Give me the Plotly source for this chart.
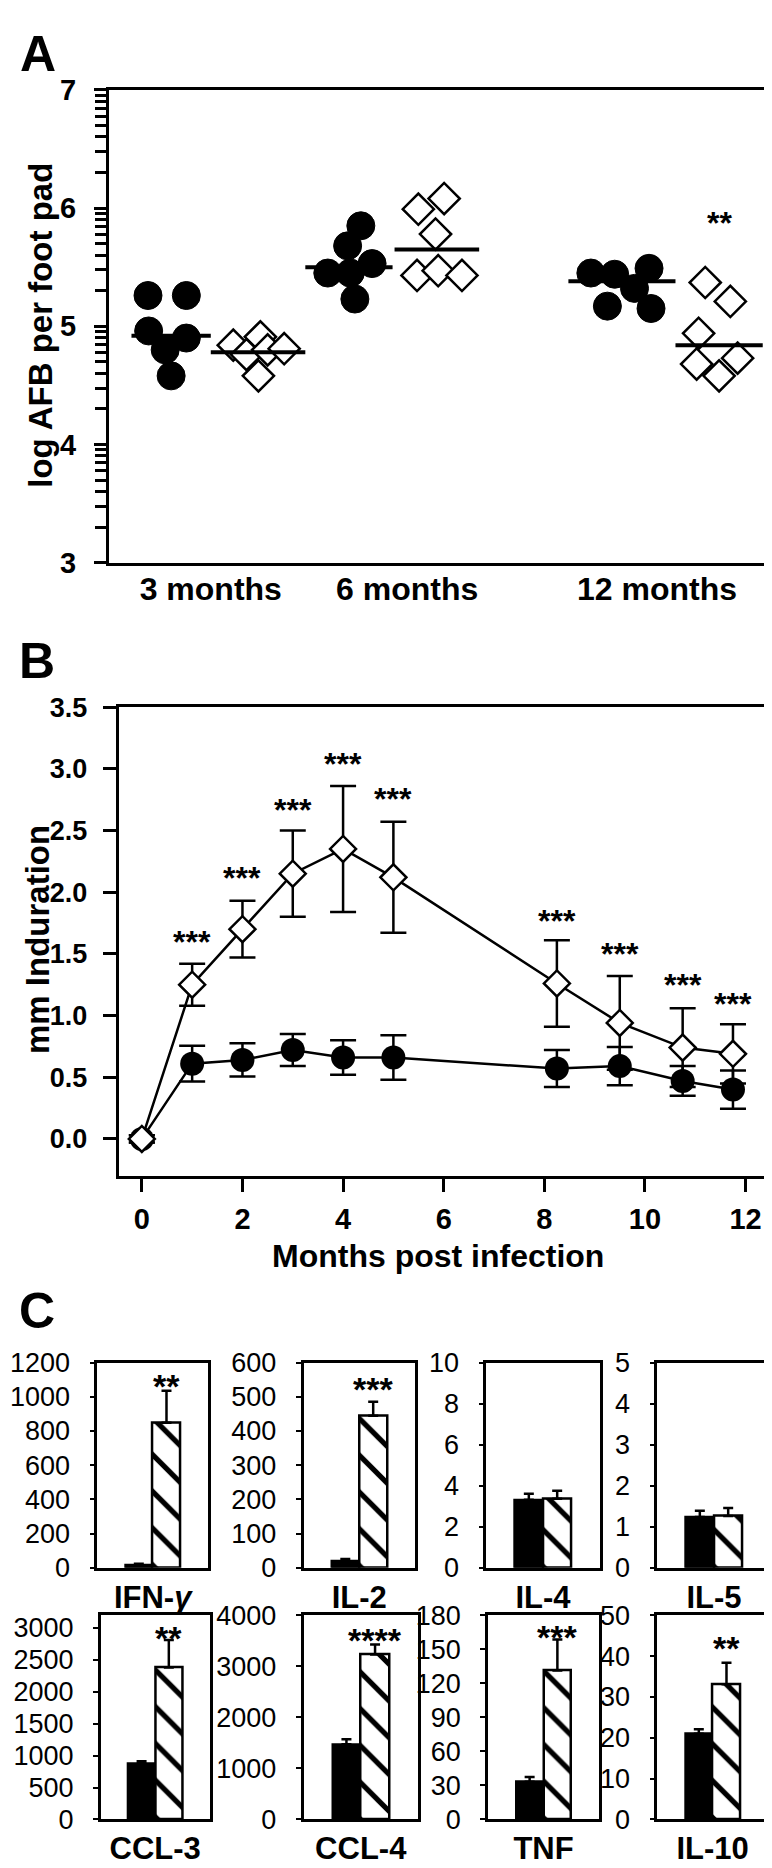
import math
import plotly.graph_objects as go

W, H = 772, 1868
FONT = "Liberation Sans, Arial, Helvetica, sans-serif"

# ---------------- Panel A data ----------------
A_CATEGORIES = ["3 months", "6 months", "12 months"]
A_CAT_POS = [1.54, 4.51, 8.29]
A_FILLED_X = [[0.59, 1.17, 0.60, 1.17, 0.85, 0.94],
              [3.31, 3.65, 3.98, 3.61, 3.81, 3.72],
              [7.29, 7.65, 8.17, 7.95, 7.54, 8.20]]
A_FILLED_Y = [[5.26, 5.26, 4.96, 4.90, 4.80, 4.58],
              [5.45, 5.45, 5.53, 5.68, 5.85, 5.23],
              [5.45, 5.44, 5.49, 5.32, 5.17, 5.15]]
A_OPEN_X = [[1.88, 2.29, 2.08, 2.40, 2.65, 2.26],
            [4.68, 5.07, 4.94, 4.66, 4.98, 5.34],
            [9.02, 9.40, 8.92, 8.89, 9.51, 9.23]]
A_OPEN_Y = [[4.84, 4.91, 4.76, 4.80, 4.81, 4.58],
            [5.99, 6.08, 5.78, 5.43, 5.47, 5.43],
            [5.37, 5.21, 4.94, 4.68, 4.73, 4.58]]
A_FILLED_MEAN = [4.92, 5.50, 5.38]
A_OPEN_MEAN = [4.78, 5.65, 4.84]
A_FILLED_MEAN_X = [(0.34, 1.54), (2.97, 4.29), (6.95, 8.57)]
A_OPEN_MEAN_X = [(1.54, 2.97), (4.32, 5.60), (8.57, 9.89)]
A_SIG_TEXT = ["**"]
A_SIG_X = [9.23]
A_SIG_Y = [5.94]

# ---------------- Panel B data ----------------
B_MONTHS = [0, 1, 2, 3, 4, 5, 8.25, 9.5, 10.75, 11.75]
B_FILLED = [0.0, 0.61, 0.64, 0.72, 0.66, 0.66, 0.57, 0.59, 0.47, 0.40]
B_FILLED_ERR = [0.03, 0.145, 0.135, 0.13, 0.14, 0.18, 0.15, 0.155, 0.12, 0.155]
B_OPEN = [0.0, 1.25, 1.70, 2.15, 2.35, 2.12, 1.26, 0.94, 0.74, 0.69]
B_OPEN_ERR = [0.03, 0.17, 0.23, 0.35, 0.51, 0.45, 0.35, 0.38, 0.32, 0.24]
B_SIG_X = [1, 2, 3, 4, 5, 8.25, 9.5, 10.75, 11.75]
B_SIG_Y = [1.66, 2.18, 2.73, 3.10, 2.82, 1.83, 1.56, 1.31, 1.16]
B_SIG_TEXT = "***"

# ---------------- Panel C data ----------------
C_LABELS = ["IFN-<i>γ</i>", "IL-2", "IL-4", "IL-5", "CCL-3", "CCL-4", "TNF", "IL-10"]
C_FILLED = [17, 21, 3.32, 1.24, 877, 1473, 33.2, 21.0]
C_FILLED_ERR = [6, 5, 0.29, 0.15, 35, 96, 4.3, 1.1]
C_HATCH = [848, 445, 3.37, 1.26, 2381, 3233, 131.2, 33.1]
C_HATCH_ERR = [188, 41, 0.38, 0.20, 430, 192, 27.4, 5.3]
C_YMAX = [1200, 600, 10, 5, 3200, 4000, 180, 50]
C_DTICK = [200, 100, 2, 1, 500, 1000, 30, 10]
C_SIG = ["**", "***", "", "", "**", "****", "***", "**"]
C_SIG_Y = [1108, 545, None, None, 2964, 3681, 167.6, 44]


def xd(a, b):
    return [a / W, b / W]


def yd(top, bottom):
    return [1 - bottom / H, 1 - top / H]


def paper_text(text, x, y, size, angle=0):
    return dict(text=text, x=x / W, y=1 - y / H, xref="paper", yref="paper",
                xanchor="center", yanchor="middle", textangle=angle, showarrow=False,
                font=dict(size=size, weight="bold"))


fig = go.Figure()
layout = dict(width=W, height=H, margin=dict(l=0, r=0, t=0, b=0),
              paper_bgcolor="white", plot_bgcolor="white", showlegend=False,
              font=dict(family=FONT, color="black"))
annotations = []

box = dict(showline=True, mirror=True, linecolor="black", showgrid=False, zeroline=False)

# ---------------- Panel A ----------------
for i in range(3):
    fig.add_trace(go.Scatter(x=A_FILLED_X[i], y=A_FILLED_Y[i], mode="markers",
                             marker=dict(symbol="circle", size=28, color="black",
                                         line=dict(color="black", width=1)),
                             xaxis="x", yaxis="y"))
    fig.add_trace(go.Scatter(x=A_OPEN_X[i], y=A_OPEN_Y[i], mode="markers",
                             marker=dict(symbol="diamond", size=24, color="white",
                                         line=dict(color="black", width=2.5)),
                             xaxis="x", yaxis="y"))
for i in range(3):
    fig.add_trace(go.Scatter(x=list(A_FILLED_MEAN_X[i]), y=[A_FILLED_MEAN[i]] * 2, mode="lines",
                             line=dict(color="black", width=4), xaxis="x", yaxis="y"))
    fig.add_trace(go.Scatter(x=list(A_OPEN_MEAN_X[i]), y=[A_OPEN_MEAN[i]] * 2, mode="lines",
                             line=dict(color="black", width=4), xaxis="x", yaxis="y"))

minorA = [n + math.log10(k) for n in range(3, 7) for k in range(2, 10)]

layout["xaxis"] = dict(domain=xd(101, 762), anchor="y", range=[0, 10], tickvals=A_CAT_POS,
                       ticktext=A_CATEGORIES, ticks="", linewidth=3,
                       tickfont=dict(size=32, weight="bold"), ticklabelstandoff=-4, **box)
layout["yaxis"] = dict(domain=yd(67, 548), anchor="x", range=[3, 7], tickvals=[3, 4, 5, 6, 7],
                       ticks="outside", ticklen=12, tickwidth=2.5, tickcolor="black", linewidth=3,
                       minor=dict(tickvals=minorA, ticks="outside", ticklen=11, tickwidth=2.5,
                                  tickcolor="black"),
                       tickfont=dict(size=29, weight="bold"), ticklabelstandoff=12, **box)
for t, x, y in zip(A_SIG_TEXT, A_SIG_X, A_SIG_Y):
    annotations.append(dict(text=t, x=x, y=y, xref="x", yref="y", showarrow=False,
                            xanchor="center", yanchor="middle",
                            font=dict(size=32, weight="bold"), yshift=-8))
annotations.append(paper_text("log AFB per foot pad", 33, 307, 33, -90))
annotations.append(paper_text("A", 30, 31, 50))

# ---------------- Panel B ----------------
fig.add_trace(go.Scatter(x=B_MONTHS, y=B_FILLED, mode="lines+markers",
                         line=dict(color="black", width=2.5),
                         marker=dict(symbol="circle", size=24, color="black"),
                         error_y=dict(type="data", array=B_FILLED_ERR, symmetric=True,
                                      color="black", thickness=2.5, width=13),
                         xaxis="x2", yaxis="y2"))
fig.add_trace(go.Scatter(x=B_MONTHS, y=B_OPEN, mode="lines+markers",
                         line=dict(color="black", width=2.5),
                         marker=dict(symbol="diamond", size=20, color="white",
                                     line=dict(color="black", width=2.5)),
                         error_y=dict(type="data", array=B_OPEN_ERR, symmetric=True,
                                      color="black", thickness=2.5, width=13),
                         xaxis="x2", yaxis="y2"))
layout["xaxis2"] = dict(domain=xd(110.7, 762.7), anchor="y2", range=[-0.46, 12.5],
                        tickvals=list(range(0, 13, 2)), ticks="outside", ticklen=13, tickwidth=2.5,
                        tickcolor="black", linewidth=3, tickfont=dict(size=29, weight="bold"),
                        ticklabelstandoff=2, **box)
layout["yaxis2"] = dict(domain=yd(695, 1172), anchor="x2", range=[-0.3, 3.5],
                        tickvals=[0, 0.5, 1, 1.5, 2, 2.5, 3, 3.5], tickformat=".1f",
                        ticks="outside", ticklen=13, tickwidth=2.5, tickcolor="black", linewidth=3,
                        tickfont=dict(size=27, weight="bold"), ticklabelstandoff=10, **box)
for x, y in zip(B_SIG_X, B_SIG_Y):
    annotations.append(dict(text=B_SIG_TEXT, x=x, y=y, xref="x2", yref="y2", showarrow=False,
                            xanchor="center", yanchor="middle",
                            font=dict(size=32, weight="bold"), yshift=-8))
annotations.append(paper_text("mm Induration", 29, 932, 33, -90))
annotations.append(paper_text("Months post infection", 430, 1253, 32))
annotations.append(paper_text("B", 29, 648, 50))

# ---------------- Panel C ----------------
C_XDOM = [(89.3, 200), (295.5, 407), (478.3, 591.7), (649.3, 762.7),
          (92.7, 201.7), (295.5, 410), (480, 591), (649.3, 760)]
C_YDOM = [(1362, 1570.7)] * 4 + [(1619, 1826.7)] * 4
for i in range(8):
    ax = i + 3
    xa, ya = "x%d" % ax, "y%d" % ax
    fig.add_trace(go.Bar(x=[0], y=[C_FILLED[i]], width=1,
                         marker=dict(color="black", line=dict(color="black", width=2)),
                         error_y=dict(type="data", array=[C_FILLED_ERR[i]], arrayminus=[0],
                                      symmetric=False, color="black", thickness=2.5, width=5),
                         xaxis=xa, yaxis=ya))
    fig.add_trace(go.Bar(x=[1], y=[C_HATCH[i]], width=1,
                         marker=dict(color="white", line=dict(color="black", width=2.5),
                                     pattern=dict(shape="\\", fgcolor="black", bgcolor="white",
                                                  fgopacity=1, size=26, solidity=0.2)),
                         error_y=dict(type="data", array=[C_HATCH_ERR[i]], arrayminus=[0],
                                      symmetric=False, color="black", thickness=2.5, width=5),
                         xaxis=xa, yaxis=ya))
    layout["xaxis%d" % ax] = dict(domain=xd(*C_XDOM[i]), anchor=ya, range=[-1.5, 2.5],
                                  tickvals=[0.5], ticktext=[C_LABELS[i]], ticks="", linewidth=2.5,
                                  tickfont=dict(size=31, weight="bold"), ticklabelstandoff=0, **box)
    layout["yaxis%d" % ax] = dict(domain=yd(*C_YDOM[i]), anchor=xa, range=[0, C_YMAX[i]],
                                  dtick=C_DTICK[i], tick0=0, ticks="outside", ticklen=5, tickwidth=2,
                                  tickcolor="black", linewidth=2.5,
                                  tickfont=dict(size=27), ticklabelstandoff=14, **box)
    if C_SIG[i]:
        annotations.append(dict(text=C_SIG[i], x=1, y=C_SIG_Y[i], xref=xa, yref=ya,
                                xanchor="center", yanchor="middle",
                                showarrow=False, font=dict(size=34, weight="bold"), yshift=-8))
annotations.append(paper_text("C", 29, 1309, 50))

layout["annotations"] = annotations
layout["bargap"] = 0
fig.update_layout(**layout)
fig.write_html("out.html")
